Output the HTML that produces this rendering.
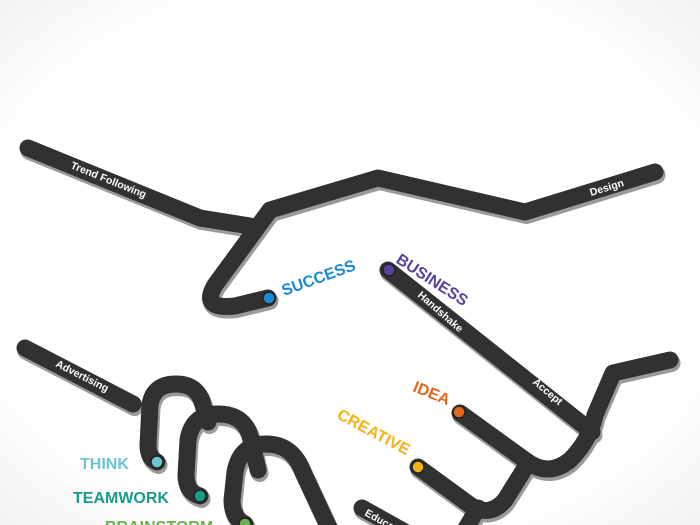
<!DOCTYPE html>
<html><head><meta charset="utf-8"><style>
html,body{margin:0;padding:0;width:700px;height:525px;overflow:hidden;background:#fff}
svg{display:block}
text{font-family:"Liberation Sans",sans-serif;font-weight:bold}
</style></head><body>
<svg width="700" height="525" viewBox="0 0 700 525">
<defs>
<radialGradient id="bg" cx="50%" cy="50%" r="75%">
<stop offset="70%" stop-color="#ffffff"/><stop offset="100%" stop-color="#efefef"/>
</radialGradient>
</defs>
<rect width="700" height="525" fill="url(#bg)"/>
<g fill="none" stroke-linecap="round" stroke-linejoin="round">
<g stroke="#9a9a9a" stroke-width="18" transform="translate(1.5,3)">
<path d="M28,148 L200,218 L250,226"/>
<path d="M655,172 L525,212 L378,178 L270,210 L215,285 Q200,310 235,306 L268,298"/>
<path d="M388,270 L592,432"/>
<path d="M460,413 L525,460 Q548,478 570,460 Q590,440 595,415 L613,373 L670,360"/>
<path d="M418,467 L470,505 Q490,518 505,500 L525,468"/>
<path d="M478,508 L465,530"/>
<path d="M25,348 L133,404"/>
<path d="M157,462 Q148,458 148,445 L150,405 Q153,384 176,384 Q198,384 203,405 L208,422"/>
<path d="M200,496 Q186,492 186,475 L188,440 Q192,414 218,414 Q246,414 251,440 L258,470"/>
<path d="M245,524 Q232,518 232,500 L235,472 Q240,444 266,444 Q292,444 302,470 L330,530"/>
<path d="M362,508 L405,532"/>
</g>
<g stroke="#323030" stroke-width="17">
<path d="M28,148 L200,218 L250,226"/>
<path d="M655,172 L525,212 L378,178 L270,210 L215,285 Q200,310 235,306 L268,298"/>
<path d="M388,270 L592,432"/>
<path d="M460,413 L525,460 Q548,478 570,460 Q590,440 595,415 L613,373 L670,360"/>
<path d="M418,467 L470,505 Q490,518 505,500 L525,468"/>
<path d="M478,508 L465,530"/>
<path d="M25,348 L133,404"/>
<path d="M157,462 Q148,458 148,445 L150,405 Q153,384 176,384 Q198,384 203,405 L208,422"/>
<path d="M200,496 Q186,492 186,475 L188,440 Q192,414 218,414 Q246,414 251,440 L258,470"/>
<path d="M245,524 Q232,518 232,500 L235,472 Q240,444 266,444 Q292,444 302,470 L330,530"/>
<path d="M362,508 L405,532"/>
</g>
</g>
<g stroke="#222" stroke-width="1.5">
<circle cx="269" cy="298" r="6" fill="#1a8ad4"/>
<circle cx="389" cy="270" r="6" fill="#5b3f9c"/>
<circle cx="459" cy="412" r="6" fill="#e2661a"/>
<circle cx="418" cy="467" r="6" fill="#f2b318"/>
<circle cx="157" cy="462" r="6" fill="#6cc4d4"/>
<circle cx="200" cy="496" r="6" fill="#1a9a8a"/>
<circle cx="245" cy="524" r="6" fill="#6ab04c"/>
</g>
<g fill="#fff" font-size="10.5">
<text transform="translate(70,168) rotate(22)">Trend Following</text>
<text transform="translate(591,196) rotate(-17)">Design</text>
<text transform="translate(417,296) rotate(41)">Handshake</text>
<text transform="translate(532,383) rotate(40)">Accept</text>
<text transform="translate(55,366) rotate(27)">Advertising</text>
<text transform="translate(364,515) rotate(29)">Education</text>
</g>
<g font-size="16">
<text transform="translate(284,296) rotate(-20)" fill="#1a8ad4">SUCCESS</text>
<text transform="translate(395,262) rotate(33)" fill="#5b3f9c">BUSINESS</text>
<text transform="translate(412,391) rotate(22)" fill="#e2661a">IDEA</text>
<text transform="translate(336,418) rotate(28)" fill="#f2b318">CREATIVE</text>
<text x="80" y="469" fill="#6cc4d4">THINK</text>
<text x="73" y="503" fill="#1a9a8a">TEAMWORK</text>
<text x="105" y="532" fill="#6ab04c">BRAINSTORM</text>
</g>
</svg>
</body></html>
